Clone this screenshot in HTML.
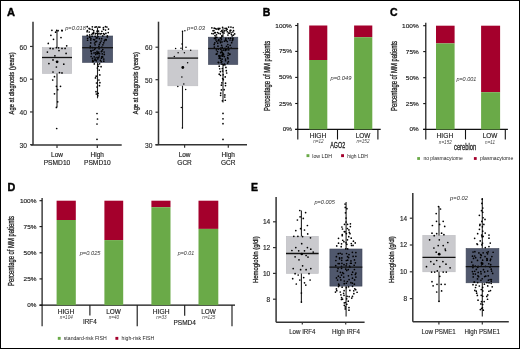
<!DOCTYPE html>
<html><head><meta charset="utf-8"><style>
html,body{margin:0;padding:0;background:#fff;}
svg{display:block;will-change:transform;}
text{font-family:"Liberation Sans", sans-serif;}
</style></head><body>
<svg width="520" height="349" viewBox="0 0 520 349" font-family='"Liberation Sans", sans-serif'><rect x="0" y="0" width="520" height="349" fill="#fff"/><text x="7.10" y="15.90" font-size="11" fill="#000" text-anchor="start" stroke="#000" stroke-width="0.4" font-weight="bold" textLength="8.00" lengthAdjust="spacingAndGlyphs">A</text><line x1="33.00" y1="21.70" x2="33.00" y2="145.00" stroke="#333" stroke-width="1.5"/><line x1="31.00" y1="145.00" x2="121.70" y2="145.00" stroke="#333" stroke-width="1.5"/><line x1="30.00" y1="144.70" x2="33.00" y2="144.70" stroke="#333" stroke-width="1.2"/><text x="27.00" y="147.80" font-size="6.8" fill="#222" text-anchor="end" stroke="#222" stroke-width="0.12" textLength="7.40" lengthAdjust="spacingAndGlyphs">30</text><line x1="30.00" y1="111.95" x2="33.00" y2="111.95" stroke="#333" stroke-width="1.2"/><text x="27.00" y="115.05" font-size="6.8" fill="#222" text-anchor="end" stroke="#222" stroke-width="0.12" textLength="7.40" lengthAdjust="spacingAndGlyphs">40</text><line x1="30.00" y1="79.20" x2="33.00" y2="79.20" stroke="#333" stroke-width="1.2"/><text x="27.00" y="82.30" font-size="6.8" fill="#222" text-anchor="end" stroke="#222" stroke-width="0.12" textLength="7.40" lengthAdjust="spacingAndGlyphs">50</text><line x1="30.00" y1="46.45" x2="33.00" y2="46.45" stroke="#333" stroke-width="1.2"/><text x="27.00" y="49.55" font-size="6.8" fill="#222" text-anchor="end" stroke="#222" stroke-width="0.12" textLength="7.40" lengthAdjust="spacingAndGlyphs">60</text><text x="13.60" y="83.40" font-size="7.8" fill="#222" text-anchor="middle" stroke="#222" stroke-width="0.3" textLength="62.00" lengthAdjust="spacingAndGlyphs" transform="rotate(-90 13.60 83.40)">Age at diagnosis (years)</text><line x1="57.00" y1="145.00" x2="57.00" y2="148.00" stroke="#333" stroke-width="1.2"/><line x1="97.30" y1="145.00" x2="97.30" y2="148.00" stroke="#333" stroke-width="1.2"/><text x="57.00" y="156.90" font-size="6.5" fill="#222" text-anchor="middle" stroke="#222" stroke-width="0.15">Low</text><text x="57.00" y="164.70" font-size="6.5" fill="#222" text-anchor="middle" stroke="#222" stroke-width="0.15" textLength="26.60" lengthAdjust="spacingAndGlyphs">PSMD10</text><text x="97.30" y="156.90" font-size="6.5" fill="#222" text-anchor="middle" stroke="#222" stroke-width="0.15">High</text><text x="97.30" y="164.70" font-size="6.5" fill="#222" text-anchor="middle" stroke="#222" stroke-width="0.15" textLength="26.60" lengthAdjust="spacingAndGlyphs">PSMD10</text><text x="65.20" y="29.80" font-size="5.2" fill="#333" text-anchor="start" font-style="italic" textLength="20.60" lengthAdjust="spacingAndGlyphs">p=0.018</text><rect x="42.30" y="47.60" width="29.40" height="25.90" fill="#cacace" stroke="#bcbcc1" stroke-width="0.6"/><line x1="57.00" y1="30.40" x2="57.00" y2="47.60" stroke="#222" stroke-width="1.1"/><line x1="57.00" y1="73.50" x2="57.00" y2="107.30" stroke="#222" stroke-width="1.1"/><circle cx="51.90" cy="30.30" r="0.85" fill="#000"/><circle cx="55.60" cy="32.20" r="0.85" fill="#000"/><circle cx="58.10" cy="30.70" r="0.85" fill="#000"/><circle cx="62.10" cy="30.70" r="0.85" fill="#000"/><circle cx="50.90" cy="35.30" r="0.85" fill="#000"/><circle cx="61.00" cy="37.60" r="0.85" fill="#000"/><circle cx="53.50" cy="39.30" r="0.85" fill="#000"/><circle cx="48.30" cy="43.40" r="0.85" fill="#000"/><circle cx="66.70" cy="45.80" r="0.85" fill="#000"/><circle cx="56.40" cy="47.70" r="0.85" fill="#000"/><circle cx="50.20" cy="48.40" r="0.85" fill="#000"/><circle cx="53.00" cy="48.70" r="0.85" fill="#000"/><circle cx="58.60" cy="47.80" r="0.85" fill="#000"/><circle cx="62.00" cy="48.40" r="0.85" fill="#000"/><circle cx="65.10" cy="48.40" r="0.85" fill="#000"/><circle cx="47.40" cy="52.10" r="0.85" fill="#000"/><circle cx="59.00" cy="50.60" r="0.85" fill="#000"/><circle cx="66.10" cy="53.40" r="0.85" fill="#000"/><circle cx="54.90" cy="55.80" r="0.85" fill="#000"/><circle cx="53.00" cy="59.90" r="0.85" fill="#000"/><circle cx="48.90" cy="63.60" r="0.85" fill="#000"/><circle cx="63.80" cy="64.20" r="0.85" fill="#000"/><circle cx="56.40" cy="67.00" r="0.85" fill="#000"/><circle cx="53.00" cy="72.00" r="0.85" fill="#000"/><circle cx="59.50" cy="72.60" r="0.85" fill="#000"/><circle cx="62.00" cy="72.90" r="0.85" fill="#000"/><circle cx="54.50" cy="76.70" r="0.85" fill="#000"/><circle cx="52.70" cy="80.00" r="0.85" fill="#000"/><circle cx="56.40" cy="86.30" r="0.85" fill="#000"/><circle cx="60.50" cy="86.30" r="0.85" fill="#000"/><circle cx="57.70" cy="89.70" r="0.85" fill="#000"/><circle cx="54.50" cy="93.80" r="0.85" fill="#000"/><circle cx="57.70" cy="101.80" r="0.85" fill="#000"/><circle cx="56.40" cy="107.40" r="0.85" fill="#000"/><circle cx="56.70" cy="128.50" r="0.85" fill="#000"/><circle cx="56.70" cy="30.40" r="0.85" fill="#000"/><line x1="42.00" y1="57.50" x2="72.00" y2="57.50" stroke="#111" stroke-width="1.3"/><circle cx="57.10" cy="61.80" r="1.4" fill="#000"/><rect x="82.50" y="36.00" width="30.20" height="26.40" fill="#50586d" stroke="#3e4557" stroke-width="0.6"/><line x1="97.50" y1="27.60" x2="97.50" y2="36.00" stroke="#222" stroke-width="1.1"/><line x1="97.50" y1="62.40" x2="97.50" y2="98.30" stroke="#222" stroke-width="1.1"/><circle cx="105.51" cy="30.11" r="0.85" fill="#000"/><circle cx="103.36" cy="27.69" r="0.85" fill="#000"/><circle cx="93.71" cy="32.34" r="0.85" fill="#000"/><circle cx="101.89" cy="31.24" r="0.85" fill="#000"/><circle cx="92.46" cy="33.25" r="0.85" fill="#000"/><circle cx="89.21" cy="32.00" r="0.85" fill="#000"/><circle cx="99.85" cy="27.19" r="0.85" fill="#000"/><circle cx="87.38" cy="30.69" r="0.85" fill="#000"/><circle cx="96.15" cy="33.26" r="0.85" fill="#000"/><circle cx="101.56" cy="33.53" r="0.85" fill="#000"/><circle cx="93.56" cy="33.63" r="0.85" fill="#000"/><circle cx="98.53" cy="31.04" r="0.85" fill="#000"/><circle cx="102.77" cy="35.95" r="0.85" fill="#000"/><circle cx="105.48" cy="26.67" r="0.85" fill="#000"/><circle cx="93.69" cy="30.72" r="0.85" fill="#000"/><circle cx="87.23" cy="26.71" r="0.85" fill="#000"/><circle cx="103.57" cy="33.54" r="0.85" fill="#000"/><circle cx="100.24" cy="33.91" r="0.85" fill="#000"/><circle cx="95.43" cy="33.86" r="0.85" fill="#000"/><circle cx="89.09" cy="28.39" r="0.85" fill="#000"/><circle cx="89.68" cy="34.95" r="0.85" fill="#000"/><circle cx="103.51" cy="29.33" r="0.85" fill="#000"/><circle cx="92.32" cy="26.81" r="0.85" fill="#000"/><circle cx="96.23" cy="26.78" r="0.85" fill="#000"/><circle cx="106.89" cy="27.01" r="0.85" fill="#000"/><circle cx="97.07" cy="31.18" r="0.85" fill="#000"/><circle cx="95.05" cy="27.22" r="0.85" fill="#000"/><circle cx="98.37" cy="27.00" r="0.85" fill="#000"/><circle cx="98.91" cy="33.28" r="0.85" fill="#000"/><circle cx="108.48" cy="29.11" r="0.85" fill="#000"/><circle cx="87.07" cy="31.76" r="0.85" fill="#000"/><circle cx="87.22" cy="35.46" r="0.85" fill="#000"/><circle cx="104.26" cy="34.33" r="0.85" fill="#000"/><circle cx="89.98" cy="29.09" r="0.85" fill="#000"/><circle cx="92.22" cy="29.45" r="0.85" fill="#000"/><circle cx="91.90" cy="34.51" r="0.85" fill="#000"/><circle cx="107.36" cy="35.90" r="0.85" fill="#000"/><circle cx="108.21" cy="32.61" r="0.85" fill="#000"/><circle cx="97.84" cy="34.06" r="0.85" fill="#000"/><circle cx="105.90" cy="33.41" r="0.85" fill="#000"/><circle cx="105.23" cy="39.54" r="0.85" fill="#000"/><circle cx="90.79" cy="39.90" r="0.85" fill="#000"/><circle cx="104.42" cy="40.86" r="0.85" fill="#000"/><circle cx="94.64" cy="39.80" r="0.85" fill="#000"/><circle cx="93.61" cy="39.51" r="0.85" fill="#000"/><circle cx="106.19" cy="39.79" r="0.85" fill="#000"/><circle cx="87.60" cy="38.29" r="0.85" fill="#000"/><circle cx="90.90" cy="38.35" r="0.85" fill="#000"/><circle cx="96.59" cy="41.45" r="0.85" fill="#000"/><circle cx="95.17" cy="36.25" r="0.85" fill="#000"/><circle cx="98.02" cy="36.61" r="0.85" fill="#000"/><circle cx="107.38" cy="36.96" r="0.85" fill="#000"/><circle cx="89.55" cy="37.08" r="0.85" fill="#000"/><circle cx="99.41" cy="38.70" r="0.85" fill="#000"/><circle cx="87.57" cy="40.24" r="0.85" fill="#000"/><circle cx="89.89" cy="37.10" r="0.85" fill="#000"/><circle cx="97.08" cy="37.96" r="0.85" fill="#000"/><circle cx="92.11" cy="36.25" r="0.85" fill="#000"/><circle cx="101.65" cy="38.66" r="0.85" fill="#000"/><circle cx="96.25" cy="37.91" r="0.85" fill="#000"/><circle cx="101.12" cy="41.02" r="0.85" fill="#000"/><circle cx="106.04" cy="39.60" r="0.85" fill="#000"/><circle cx="100.20" cy="42.68" r="0.85" fill="#000"/><circle cx="95.08" cy="44.82" r="0.85" fill="#000"/><circle cx="95.52" cy="41.86" r="0.85" fill="#000"/><circle cx="103.71" cy="42.79" r="0.85" fill="#000"/><circle cx="99.35" cy="44.40" r="0.85" fill="#000"/><circle cx="90.73" cy="42.92" r="0.85" fill="#000"/><circle cx="98.88" cy="46.28" r="0.85" fill="#000"/><circle cx="90.33" cy="46.20" r="0.85" fill="#000"/><circle cx="102.89" cy="44.87" r="0.85" fill="#000"/><circle cx="92.47" cy="47.57" r="0.85" fill="#000"/><circle cx="101.93" cy="47.02" r="0.85" fill="#000"/><circle cx="94.56" cy="43.01" r="0.85" fill="#000"/><circle cx="95.34" cy="48.08" r="0.85" fill="#000"/><circle cx="102.24" cy="53.82" r="0.85" fill="#000"/><circle cx="90.16" cy="47.77" r="0.85" fill="#000"/><circle cx="97.05" cy="51.31" r="0.85" fill="#000"/><circle cx="91.18" cy="51.56" r="0.85" fill="#000"/><circle cx="94.58" cy="49.39" r="0.85" fill="#000"/><circle cx="98.80" cy="52.05" r="0.85" fill="#000"/><circle cx="104.29" cy="54.40" r="0.85" fill="#000"/><circle cx="94.06" cy="52.89" r="0.85" fill="#000"/><circle cx="99.57" cy="53.76" r="0.85" fill="#000"/><circle cx="91.52" cy="53.68" r="0.85" fill="#000"/><circle cx="95.70" cy="54.41" r="0.85" fill="#000"/><circle cx="104.12" cy="52.00" r="0.85" fill="#000"/><circle cx="99.10" cy="48.73" r="0.85" fill="#000"/><circle cx="92.97" cy="50.26" r="0.85" fill="#000"/><circle cx="95.67" cy="52.75" r="0.85" fill="#000"/><circle cx="101.99" cy="50.95" r="0.85" fill="#000"/><circle cx="102.79" cy="49.50" r="0.85" fill="#000"/><circle cx="101.34" cy="51.55" r="0.85" fill="#000"/><circle cx="90.92" cy="50.69" r="0.85" fill="#000"/><circle cx="96.32" cy="60.79" r="0.85" fill="#000"/><circle cx="95.14" cy="58.01" r="0.85" fill="#000"/><circle cx="98.73" cy="57.55" r="0.85" fill="#000"/><circle cx="92.73" cy="60.33" r="0.85" fill="#000"/><circle cx="94.17" cy="56.75" r="0.85" fill="#000"/><circle cx="95.78" cy="59.90" r="0.85" fill="#000"/><circle cx="101.44" cy="58.19" r="0.85" fill="#000"/><circle cx="94.72" cy="59.89" r="0.85" fill="#000"/><circle cx="103.78" cy="59.09" r="0.85" fill="#000"/><circle cx="101.78" cy="56.81" r="0.85" fill="#000"/><circle cx="99.21" cy="55.99" r="0.85" fill="#000"/><circle cx="103.80" cy="61.14" r="0.85" fill="#000"/><circle cx="100.42" cy="60.28" r="0.85" fill="#000"/><circle cx="102.79" cy="57.00" r="0.85" fill="#000"/><circle cx="92.66" cy="61.57" r="0.85" fill="#000"/><circle cx="93.23" cy="61.45" r="0.85" fill="#000"/><circle cx="91.14" cy="56.50" r="0.85" fill="#000"/><circle cx="102.21" cy="56.48" r="0.85" fill="#000"/><circle cx="97.04" cy="57.47" r="0.85" fill="#000"/><circle cx="97.82" cy="58.96" r="0.85" fill="#000"/><circle cx="101.23" cy="61.51" r="0.85" fill="#000"/><circle cx="92.49" cy="58.40" r="0.85" fill="#000"/><circle cx="99.61" cy="63.87" r="0.85" fill="#000"/><circle cx="97.87" cy="64.44" r="0.85" fill="#000"/><circle cx="101.08" cy="66.66" r="0.85" fill="#000"/><circle cx="94.33" cy="63.97" r="0.85" fill="#000"/><circle cx="98.42" cy="66.27" r="0.85" fill="#000"/><circle cx="96.51" cy="83.01" r="0.85" fill="#000"/><circle cx="97.42" cy="68.12" r="0.85" fill="#000"/><circle cx="96.00" cy="91.64" r="0.85" fill="#000"/><circle cx="98.91" cy="80.00" r="0.85" fill="#000"/><circle cx="99.23" cy="70.10" r="0.85" fill="#000"/><circle cx="96.35" cy="94.00" r="0.85" fill="#000"/><circle cx="99.89" cy="82.63" r="0.85" fill="#000"/><circle cx="98.17" cy="93.39" r="0.85" fill="#000"/><circle cx="97.82" cy="95.74" r="0.85" fill="#000"/><circle cx="97.04" cy="87.00" r="0.85" fill="#000"/><circle cx="96.19" cy="76.15" r="0.85" fill="#000"/><circle cx="95.48" cy="77.93" r="0.85" fill="#000"/><circle cx="99.81" cy="74.93" r="0.85" fill="#000"/><circle cx="99.45" cy="85.70" r="0.85" fill="#000"/><circle cx="97.00" cy="113.50" r="0.85" fill="#000"/><circle cx="97.50" cy="119.00" r="0.85" fill="#000"/><circle cx="97.00" cy="124.00" r="0.85" fill="#000"/><circle cx="97.00" cy="139.30" r="0.85" fill="#000"/><circle cx="61.90" cy="30.40" r="0.85" fill="#000"/><line x1="82.20" y1="47.70" x2="113.00" y2="47.70" stroke="#111" stroke-width="1.3"/><circle cx="97.60" cy="53.30" r="1.4" fill="#000"/><line x1="158.50" y1="21.70" x2="158.50" y2="144.70" stroke="#333" stroke-width="1.5"/><line x1="155.50" y1="144.70" x2="247.00" y2="144.70" stroke="#333" stroke-width="1.5"/><line x1="155.50" y1="144.70" x2="158.50" y2="144.70" stroke="#333" stroke-width="1.2"/><text x="152.50" y="147.80" font-size="6.8" fill="#222" text-anchor="end" stroke="#222" stroke-width="0.12" textLength="7.40" lengthAdjust="spacingAndGlyphs">30</text><line x1="155.50" y1="112.20" x2="158.50" y2="112.20" stroke="#333" stroke-width="1.2"/><text x="152.50" y="115.30" font-size="6.8" fill="#222" text-anchor="end" stroke="#222" stroke-width="0.12" textLength="7.40" lengthAdjust="spacingAndGlyphs">40</text><line x1="155.50" y1="79.70" x2="158.50" y2="79.70" stroke="#333" stroke-width="1.2"/><text x="152.50" y="82.80" font-size="6.8" fill="#222" text-anchor="end" stroke="#222" stroke-width="0.12" textLength="7.40" lengthAdjust="spacingAndGlyphs">50</text><line x1="155.50" y1="47.20" x2="158.50" y2="47.20" stroke="#333" stroke-width="1.2"/><text x="152.50" y="50.30" font-size="6.8" fill="#222" text-anchor="end" stroke="#222" stroke-width="0.12" textLength="7.40" lengthAdjust="spacingAndGlyphs">60</text><text x="137.60" y="83.20" font-size="7.8" fill="#222" text-anchor="middle" stroke="#222" stroke-width="0.3" textLength="62.00" lengthAdjust="spacingAndGlyphs" transform="rotate(-90 137.60 83.20)">Age at diagnosis (years)</text><line x1="184.60" y1="144.70" x2="184.60" y2="147.70" stroke="#333" stroke-width="1.2"/><line x1="228.30" y1="144.70" x2="228.30" y2="147.70" stroke="#333" stroke-width="1.2"/><text x="184.60" y="156.80" font-size="6.5" fill="#222" text-anchor="middle" stroke="#222" stroke-width="0.15">Low</text><text x="184.60" y="164.90" font-size="6.5" fill="#222" text-anchor="middle" stroke="#222" stroke-width="0.15">GCR</text><text x="228.30" y="156.80" font-size="6.5" fill="#222" text-anchor="middle" stroke="#222" stroke-width="0.15">High</text><text x="228.30" y="164.90" font-size="6.5" fill="#222" text-anchor="middle" stroke="#222" stroke-width="0.15">GCR</text><text x="187.10" y="30.40" font-size="5.2" fill="#333" text-anchor="start" font-style="italic" textLength="17.80" lengthAdjust="spacingAndGlyphs">p=0.03</text><rect x="167.90" y="50.10" width="29.90" height="35.70" fill="#cacace" stroke="#bcbcc1" stroke-width="0.6"/><line x1="182.50" y1="31.00" x2="182.50" y2="50.10" stroke="#222" stroke-width="1.1"/><line x1="182.50" y1="85.80" x2="182.50" y2="128.30" stroke="#222" stroke-width="1.1"/><circle cx="182.50" cy="31.30" r="0.75" fill="#000"/><circle cx="182.00" cy="43.90" r="0.75" fill="#000"/><circle cx="175.60" cy="48.60" r="0.75" fill="#000"/><circle cx="181.00" cy="48.30" r="0.75" fill="#000"/><circle cx="186.00" cy="47.30" r="0.75" fill="#000"/><circle cx="190.70" cy="50.20" r="0.75" fill="#000"/><circle cx="174.30" cy="56.50" r="0.75" fill="#000"/><circle cx="178.10" cy="52.70" r="0.75" fill="#000"/><circle cx="184.40" cy="52.70" r="0.75" fill="#000"/><circle cx="187.60" cy="62.80" r="0.75" fill="#000"/><circle cx="181.90" cy="77.00" r="0.75" fill="#000"/><circle cx="183.80" cy="83.90" r="0.75" fill="#000"/><circle cx="177.80" cy="86.40" r="0.75" fill="#000"/><circle cx="185.70" cy="89.60" r="0.75" fill="#000"/><circle cx="181.30" cy="107.50" r="0.75" fill="#000"/><circle cx="182.40" cy="128.00" r="0.75" fill="#000"/><circle cx="184.90" cy="30.80" r="0.75" fill="#000"/><line x1="167.60" y1="58.10" x2="198.10" y2="58.10" stroke="#111" stroke-width="1.3"/><circle cx="182.80" cy="67.50" r="1.4" fill="#000"/><rect x="208.40" y="37.20" width="29.40" height="27.30" fill="#50586d" stroke="#3e4557" stroke-width="0.6"/><line x1="223.00" y1="27.70" x2="223.00" y2="37.20" stroke="#222" stroke-width="1.1"/><line x1="223.00" y1="64.50" x2="223.00" y2="102.50" stroke="#222" stroke-width="1.1"/><circle cx="212.95" cy="30.75" r="0.85" fill="#000"/><circle cx="227.06" cy="29.38" r="0.85" fill="#000"/><circle cx="230.95" cy="27.04" r="0.85" fill="#000"/><circle cx="233.48" cy="35.07" r="0.85" fill="#000"/><circle cx="221.92" cy="36.18" r="0.85" fill="#000"/><circle cx="222.65" cy="32.22" r="0.85" fill="#000"/><circle cx="214.97" cy="35.58" r="0.85" fill="#000"/><circle cx="220.42" cy="33.87" r="0.85" fill="#000"/><circle cx="232.17" cy="35.93" r="0.85" fill="#000"/><circle cx="228.40" cy="33.00" r="0.85" fill="#000"/><circle cx="227.91" cy="34.99" r="0.85" fill="#000"/><circle cx="217.58" cy="32.56" r="0.85" fill="#000"/><circle cx="231.44" cy="34.50" r="0.85" fill="#000"/><circle cx="232.84" cy="32.01" r="0.85" fill="#000"/><circle cx="224.49" cy="30.92" r="0.85" fill="#000"/><circle cx="231.07" cy="32.79" r="0.85" fill="#000"/><circle cx="226.12" cy="30.32" r="0.85" fill="#000"/><circle cx="233.57" cy="30.70" r="0.85" fill="#000"/><circle cx="218.69" cy="29.49" r="0.85" fill="#000"/><circle cx="230.87" cy="30.36" r="0.85" fill="#000"/><circle cx="230.19" cy="30.30" r="0.85" fill="#000"/><circle cx="219.81" cy="28.47" r="0.85" fill="#000"/><circle cx="215.56" cy="28.65" r="0.85" fill="#000"/><circle cx="221.06" cy="31.52" r="0.85" fill="#000"/><circle cx="213.92" cy="30.65" r="0.85" fill="#000"/><circle cx="216.55" cy="34.78" r="0.85" fill="#000"/><circle cx="222.60" cy="27.34" r="0.85" fill="#000"/><circle cx="228.63" cy="27.07" r="0.85" fill="#000"/><circle cx="216.87" cy="29.07" r="0.85" fill="#000"/><circle cx="215.72" cy="36.99" r="0.85" fill="#000"/><circle cx="224.06" cy="32.98" r="0.85" fill="#000"/><circle cx="211.89" cy="27.80" r="0.85" fill="#000"/><circle cx="218.84" cy="33.37" r="0.85" fill="#000"/><circle cx="225.09" cy="28.40" r="0.85" fill="#000"/><circle cx="213.30" cy="33.75" r="0.85" fill="#000"/><circle cx="215.44" cy="32.71" r="0.85" fill="#000"/><circle cx="234.65" cy="33.90" r="0.85" fill="#000"/><circle cx="230.05" cy="31.09" r="0.85" fill="#000"/><circle cx="214.56" cy="32.78" r="0.85" fill="#000"/><circle cx="226.51" cy="28.32" r="0.85" fill="#000"/><circle cx="233.14" cy="27.60" r="0.85" fill="#000"/><circle cx="218.19" cy="28.44" r="0.85" fill="#000"/><circle cx="221.91" cy="35.87" r="0.85" fill="#000"/><circle cx="221.86" cy="30.52" r="0.85" fill="#000"/><circle cx="227.34" cy="31.75" r="0.85" fill="#000"/><circle cx="214.23" cy="28.20" r="0.85" fill="#000"/><circle cx="211.88" cy="33.48" r="0.85" fill="#000"/><circle cx="229.28" cy="33.18" r="0.85" fill="#000"/><circle cx="218.82" cy="39.63" r="0.85" fill="#000"/><circle cx="221.43" cy="39.58" r="0.85" fill="#000"/><circle cx="215.57" cy="38.12" r="0.85" fill="#000"/><circle cx="228.56" cy="38.36" r="0.85" fill="#000"/><circle cx="230.03" cy="40.00" r="0.85" fill="#000"/><circle cx="220.35" cy="38.07" r="0.85" fill="#000"/><circle cx="225.84" cy="38.38" r="0.85" fill="#000"/><circle cx="218.53" cy="40.07" r="0.85" fill="#000"/><circle cx="216.65" cy="41.48" r="0.85" fill="#000"/><circle cx="221.99" cy="41.93" r="0.85" fill="#000"/><circle cx="221.25" cy="37.88" r="0.85" fill="#000"/><circle cx="214.47" cy="38.39" r="0.85" fill="#000"/><circle cx="224.45" cy="41.13" r="0.85" fill="#000"/><circle cx="232.93" cy="38.20" r="0.85" fill="#000"/><circle cx="218.34" cy="40.62" r="0.85" fill="#000"/><circle cx="232.80" cy="39.63" r="0.85" fill="#000"/><circle cx="220.11" cy="41.03" r="0.85" fill="#000"/><circle cx="215.94" cy="39.96" r="0.85" fill="#000"/><circle cx="227.26" cy="41.53" r="0.85" fill="#000"/><circle cx="232.33" cy="40.60" r="0.85" fill="#000"/><circle cx="225.56" cy="39.75" r="0.85" fill="#000"/><circle cx="230.62" cy="38.14" r="0.85" fill="#000"/><circle cx="226.09" cy="40.40" r="0.85" fill="#000"/><circle cx="216.81" cy="37.38" r="0.85" fill="#000"/><circle cx="226.49" cy="46.23" r="0.85" fill="#000"/><circle cx="231.20" cy="48.21" r="0.85" fill="#000"/><circle cx="221.62" cy="45.35" r="0.85" fill="#000"/><circle cx="230.20" cy="45.36" r="0.85" fill="#000"/><circle cx="220.46" cy="42.64" r="0.85" fill="#000"/><circle cx="225.04" cy="48.39" r="0.85" fill="#000"/><circle cx="214.33" cy="47.10" r="0.85" fill="#000"/><circle cx="228.31" cy="47.22" r="0.85" fill="#000"/><circle cx="217.77" cy="43.17" r="0.85" fill="#000"/><circle cx="227.84" cy="44.51" r="0.85" fill="#000"/><circle cx="222.23" cy="47.37" r="0.85" fill="#000"/><circle cx="214.23" cy="44.45" r="0.85" fill="#000"/><circle cx="220.84" cy="48.11" r="0.85" fill="#000"/><circle cx="214.84" cy="42.83" r="0.85" fill="#000"/><circle cx="217.96" cy="46.15" r="0.85" fill="#000"/><circle cx="231.68" cy="42.71" r="0.85" fill="#000"/><circle cx="221.95" cy="50.84" r="0.85" fill="#000"/><circle cx="229.61" cy="54.38" r="0.85" fill="#000"/><circle cx="220.85" cy="49.40" r="0.85" fill="#000"/><circle cx="220.66" cy="52.71" r="0.85" fill="#000"/><circle cx="225.26" cy="50.44" r="0.85" fill="#000"/><circle cx="223.51" cy="50.08" r="0.85" fill="#000"/><circle cx="218.41" cy="49.04" r="0.85" fill="#000"/><circle cx="229.90" cy="54.11" r="0.85" fill="#000"/><circle cx="217.01" cy="53.87" r="0.85" fill="#000"/><circle cx="221.89" cy="55.80" r="0.85" fill="#000"/><circle cx="222.50" cy="52.49" r="0.85" fill="#000"/><circle cx="216.40" cy="49.83" r="0.85" fill="#000"/><circle cx="228.78" cy="49.87" r="0.85" fill="#000"/><circle cx="225.70" cy="49.16" r="0.85" fill="#000"/><circle cx="219.87" cy="55.65" r="0.85" fill="#000"/><circle cx="216.26" cy="54.13" r="0.85" fill="#000"/><circle cx="217.53" cy="51.66" r="0.85" fill="#000"/><circle cx="226.87" cy="49.79" r="0.85" fill="#000"/><circle cx="228.27" cy="53.06" r="0.85" fill="#000"/><circle cx="228.00" cy="55.24" r="0.85" fill="#000"/><circle cx="218.77" cy="55.91" r="0.85" fill="#000"/><circle cx="221.49" cy="51.99" r="0.85" fill="#000"/><circle cx="218.29" cy="62.32" r="0.85" fill="#000"/><circle cx="225.50" cy="59.03" r="0.85" fill="#000"/><circle cx="221.16" cy="62.48" r="0.85" fill="#000"/><circle cx="224.40" cy="56.57" r="0.85" fill="#000"/><circle cx="219.26" cy="58.26" r="0.85" fill="#000"/><circle cx="227.63" cy="63.08" r="0.85" fill="#000"/><circle cx="222.77" cy="56.15" r="0.85" fill="#000"/><circle cx="222.10" cy="59.16" r="0.85" fill="#000"/><circle cx="220.87" cy="60.51" r="0.85" fill="#000"/><circle cx="222.07" cy="64.13" r="0.85" fill="#000"/><circle cx="219.39" cy="57.90" r="0.85" fill="#000"/><circle cx="227.65" cy="57.50" r="0.85" fill="#000"/><circle cx="219.84" cy="56.39" r="0.85" fill="#000"/><circle cx="224.36" cy="64.08" r="0.85" fill="#000"/><circle cx="225.53" cy="60.70" r="0.85" fill="#000"/><circle cx="228.39" cy="61.65" r="0.85" fill="#000"/><circle cx="227.97" cy="58.72" r="0.85" fill="#000"/><circle cx="220.36" cy="58.38" r="0.85" fill="#000"/><circle cx="221.82" cy="61.58" r="0.85" fill="#000"/><circle cx="218.65" cy="62.57" r="0.85" fill="#000"/><circle cx="223.15" cy="74.76" r="0.85" fill="#000"/><circle cx="219.70" cy="68.75" r="0.85" fill="#000"/><circle cx="222.34" cy="68.57" r="0.85" fill="#000"/><circle cx="220.38" cy="71.72" r="0.85" fill="#000"/><circle cx="224.96" cy="64.85" r="0.85" fill="#000"/><circle cx="226.30" cy="70.72" r="0.85" fill="#000"/><circle cx="223.57" cy="64.97" r="0.85" fill="#000"/><circle cx="219.23" cy="66.22" r="0.85" fill="#000"/><circle cx="219.24" cy="74.13" r="0.85" fill="#000"/><circle cx="225.92" cy="67.45" r="0.85" fill="#000"/><circle cx="226.67" cy="73.00" r="0.85" fill="#000"/><circle cx="222.53" cy="71.01" r="0.85" fill="#000"/><circle cx="220.71" cy="93.07" r="0.85" fill="#000"/><circle cx="221.84" cy="82.87" r="0.85" fill="#000"/><circle cx="224.16" cy="89.68" r="0.85" fill="#000"/><circle cx="225.49" cy="85.59" r="0.85" fill="#000"/><circle cx="222.41" cy="100.81" r="0.85" fill="#000"/><circle cx="225.55" cy="83.21" r="0.85" fill="#000"/><circle cx="224.78" cy="97.00" r="0.85" fill="#000"/><circle cx="225.22" cy="76.93" r="0.85" fill="#000"/><circle cx="223.29" cy="79.71" r="0.85" fill="#000"/><circle cx="220.61" cy="95.36" r="0.85" fill="#000"/><circle cx="222.67" cy="78.51" r="0.85" fill="#000"/><circle cx="225.28" cy="100.25" r="0.85" fill="#000"/><circle cx="221.41" cy="85.13" r="0.85" fill="#000"/><circle cx="224.86" cy="94.88" r="0.85" fill="#000"/><circle cx="221.40" cy="89.95" r="0.85" fill="#000"/><circle cx="220.46" cy="75.34" r="0.85" fill="#000"/><circle cx="223.00" cy="113.40" r="0.85" fill="#000"/><circle cx="223.00" cy="118.80" r="0.85" fill="#000"/><circle cx="223.00" cy="123.70" r="0.85" fill="#000"/><circle cx="223.00" cy="139.40" r="0.85" fill="#000"/><line x1="208.10" y1="48.50" x2="238.10" y2="48.50" stroke="#111" stroke-width="1.3"/><circle cx="223.00" cy="54.40" r="1.4" fill="#000"/><text x="262.70" y="15.80" font-size="10.6" fill="#000" text-anchor="start" stroke="#000" stroke-width="0.4" font-weight="bold" textLength="7.60" lengthAdjust="spacingAndGlyphs">B</text><line x1="297.80" y1="22.90" x2="297.80" y2="129.40" stroke="#111" stroke-width="1.2"/><line x1="295.20" y1="129.40" x2="380.70" y2="129.40" stroke="#111" stroke-width="1.3"/><line x1="295.20" y1="25.50" x2="297.80" y2="25.50" stroke="#111" stroke-width="1.1"/><text x="291.90" y="27.50" font-size="5.8" fill="#222" text-anchor="end" stroke="#222" stroke-width="0.15" textLength="16.60" lengthAdjust="spacingAndGlyphs">100%</text><line x1="295.20" y1="51.40" x2="297.80" y2="51.40" stroke="#111" stroke-width="1.1"/><text x="291.90" y="53.40" font-size="5.8" fill="#222" text-anchor="end" stroke="#222" stroke-width="0.15" textLength="12.90" lengthAdjust="spacingAndGlyphs">75%</text><line x1="295.20" y1="77.40" x2="297.80" y2="77.40" stroke="#111" stroke-width="1.1"/><text x="291.90" y="79.40" font-size="5.8" fill="#222" text-anchor="end" stroke="#222" stroke-width="0.15" textLength="12.90" lengthAdjust="spacingAndGlyphs">50%</text><line x1="295.20" y1="103.50" x2="297.80" y2="103.50" stroke="#111" stroke-width="1.1"/><text x="291.90" y="105.50" font-size="5.8" fill="#222" text-anchor="end" stroke="#222" stroke-width="0.15" textLength="12.90" lengthAdjust="spacingAndGlyphs">25%</text><line x1="295.20" y1="129.40" x2="297.80" y2="129.40" stroke="#111" stroke-width="1.1"/><text x="291.90" y="131.40" font-size="5.8" fill="#222" text-anchor="end" stroke="#222" stroke-width="0.15" textLength="9.20" lengthAdjust="spacingAndGlyphs">0%</text><line x1="297.80" y1="129.40" x2="297.80" y2="139.50" stroke="#111" stroke-width="1.1"/><line x1="337.50" y1="129.40" x2="337.50" y2="139.50" stroke="#111" stroke-width="1.1"/><line x1="377.90" y1="129.40" x2="377.90" y2="139.50" stroke="#111" stroke-width="1.1"/><text x="269.70" y="75.90" font-size="8.2" fill="#222" text-anchor="middle" stroke="#222" stroke-width="0.3" textLength="70.00" lengthAdjust="spacingAndGlyphs" transform="rotate(-90 269.70 75.90)">Percentage of MM patients</text><rect x="309.20" y="25.50" width="18.10" height="34.50" fill="#a4002c"/><rect x="309.20" y="60.00" width="18.10" height="69.40" fill="#6aaa48"/><rect x="354.10" y="25.50" width="18.20" height="11.70" fill="#a4002c"/><rect x="354.10" y="37.20" width="18.20" height="92.20" fill="#6aaa48"/><text x="330.50" y="80.30" font-size="5.2" fill="#333" text-anchor="start" font-style="italic" textLength="21.00" lengthAdjust="spacingAndGlyphs">p=0.049</text><text x="318.00" y="137.50" font-size="6.4" fill="#222" text-anchor="middle" stroke="#222" stroke-width="0.15" textLength="16.70" lengthAdjust="spacingAndGlyphs">HIGH</text><text x="318.50" y="143.20" font-size="4.6" fill="#444" text-anchor="middle" font-style="italic">n=12</text><text x="363.00" y="137.50" font-size="6.4" fill="#222" text-anchor="middle" stroke="#222" stroke-width="0.15" textLength="14.60" lengthAdjust="spacingAndGlyphs">LOW</text><text x="363.00" y="143.20" font-size="4.6" fill="#444" text-anchor="middle" font-style="italic">n=152</text><text x="337.70" y="147.90" font-size="8.6" fill="#222" text-anchor="middle" stroke="#222" stroke-width="0.3" textLength="14.80" lengthAdjust="spacingAndGlyphs">AGO2</text><rect x="306.50" y="154.20" width="2.90" height="2.90" fill="#6aaa48"/><text x="312.30" y="157.80" font-size="5.5" fill="#222" text-anchor="start" textLength="19.70" lengthAdjust="spacingAndGlyphs">low LDH</text><rect x="341.10" y="154.20" width="2.90" height="2.90" fill="#a4002c"/><text x="347.30" y="157.80" font-size="5.5" fill="#222" text-anchor="start" textLength="20.50" lengthAdjust="spacingAndGlyphs">high LDH</text><text x="390.10" y="15.80" font-size="10.6" fill="#000" text-anchor="start" stroke="#000" stroke-width="0.4" font-weight="bold" textLength="7.60" lengthAdjust="spacingAndGlyphs">C</text><line x1="425.80" y1="22.70" x2="425.80" y2="129.40" stroke="#111" stroke-width="1.2"/><line x1="423.20" y1="129.40" x2="507.90" y2="129.40" stroke="#111" stroke-width="1.3"/><line x1="423.20" y1="25.70" x2="425.80" y2="25.70" stroke="#111" stroke-width="1.1"/><text x="418.70" y="27.70" font-size="5.8" fill="#222" text-anchor="end" stroke="#222" stroke-width="0.15" textLength="16.60" lengthAdjust="spacingAndGlyphs">100%</text><line x1="423.20" y1="51.60" x2="425.80" y2="51.60" stroke="#111" stroke-width="1.1"/><text x="418.70" y="53.60" font-size="5.8" fill="#222" text-anchor="end" stroke="#222" stroke-width="0.15" textLength="12.90" lengthAdjust="spacingAndGlyphs">75%</text><line x1="423.20" y1="77.70" x2="425.80" y2="77.70" stroke="#111" stroke-width="1.1"/><text x="418.70" y="79.70" font-size="5.8" fill="#222" text-anchor="end" stroke="#222" stroke-width="0.15" textLength="12.90" lengthAdjust="spacingAndGlyphs">50%</text><line x1="423.20" y1="103.60" x2="425.80" y2="103.60" stroke="#111" stroke-width="1.1"/><text x="418.70" y="105.60" font-size="5.8" fill="#222" text-anchor="end" stroke="#222" stroke-width="0.15" textLength="12.90" lengthAdjust="spacingAndGlyphs">25%</text><line x1="423.20" y1="129.40" x2="425.80" y2="129.40" stroke="#111" stroke-width="1.1"/><text x="418.70" y="131.40" font-size="5.8" fill="#222" text-anchor="end" stroke="#222" stroke-width="0.15" textLength="9.20" lengthAdjust="spacingAndGlyphs">0%</text><line x1="425.80" y1="129.40" x2="425.80" y2="139.40" stroke="#111" stroke-width="1.1"/><line x1="465.50" y1="129.40" x2="465.50" y2="139.40" stroke="#111" stroke-width="1.1"/><line x1="505.30" y1="129.40" x2="505.30" y2="139.40" stroke="#111" stroke-width="1.1"/><text x="397.20" y="76.00" font-size="8.2" fill="#222" text-anchor="middle" stroke="#222" stroke-width="0.3" textLength="70.00" lengthAdjust="spacingAndGlyphs" transform="rotate(-90 397.20 76.00)">Percentage of MM patients</text><rect x="436.00" y="25.70" width="18.60" height="17.70" fill="#a4002c"/><rect x="436.00" y="43.40" width="18.60" height="86.10" fill="#6aaa48"/><rect x="481.10" y="25.70" width="19.00" height="66.50" fill="#a4002c"/><rect x="481.10" y="92.20" width="19.00" height="37.30" fill="#6aaa48"/><text x="456.40" y="81.00" font-size="5.2" fill="#333" text-anchor="start" font-style="italic" textLength="19.90" lengthAdjust="spacingAndGlyphs">p=0.001</text><text x="444.90" y="137.80" font-size="6.4" fill="#222" text-anchor="middle" stroke="#222" stroke-width="0.15" textLength="16.70" lengthAdjust="spacingAndGlyphs">HIGH</text><text x="445.30" y="143.50" font-size="4.6" fill="#444" text-anchor="middle" font-style="italic">n=152</text><text x="490.10" y="137.80" font-size="6.4" fill="#222" text-anchor="middle" stroke="#222" stroke-width="0.15" textLength="14.60" lengthAdjust="spacingAndGlyphs">LOW</text><text x="490.10" y="143.50" font-size="4.6" fill="#444" text-anchor="middle" font-style="italic">n=11</text><text x="465.10" y="150.20" font-size="8.8" fill="#222" text-anchor="middle" stroke="#222" stroke-width="0.3" textLength="22.20" lengthAdjust="spacingAndGlyphs">cereblon</text><rect x="417.20" y="157.10" width="2.80" height="2.80" fill="#6aaa48"/><text x="423.40" y="160.00" font-size="5.5" fill="#222" text-anchor="start" textLength="39.30" lengthAdjust="spacingAndGlyphs">no plasmacytome</text><rect x="473.90" y="157.10" width="2.80" height="2.80" fill="#a4002c"/><text x="480.00" y="160.00" font-size="5.5" fill="#222" text-anchor="start" textLength="33.30" lengthAdjust="spacingAndGlyphs">plasmacytome</text><text x="7.50" y="190.60" font-size="10.6" fill="#000" text-anchor="start" stroke="#000" stroke-width="0.4" font-weight="bold" textLength="7.80" lengthAdjust="spacingAndGlyphs">D</text><line x1="42.10" y1="197.90" x2="42.10" y2="305.20" stroke="#111" stroke-width="1.2"/><line x1="39.50" y1="305.20" x2="235.00" y2="305.20" stroke="#111" stroke-width="1.3"/><line x1="39.50" y1="200.70" x2="42.10" y2="200.70" stroke="#111" stroke-width="1.1"/><text x="36.50" y="202.70" font-size="5.8" fill="#222" text-anchor="end" stroke="#222" stroke-width="0.15" textLength="16.60" lengthAdjust="spacingAndGlyphs">100%</text><line x1="39.50" y1="226.60" x2="42.10" y2="226.60" stroke="#111" stroke-width="1.1"/><text x="36.50" y="228.60" font-size="5.8" fill="#222" text-anchor="end" stroke="#222" stroke-width="0.15" textLength="12.90" lengthAdjust="spacingAndGlyphs">75%</text><line x1="39.50" y1="252.80" x2="42.10" y2="252.80" stroke="#111" stroke-width="1.1"/><text x="36.50" y="254.80" font-size="5.8" fill="#222" text-anchor="end" stroke="#222" stroke-width="0.15" textLength="12.90" lengthAdjust="spacingAndGlyphs">50%</text><line x1="39.50" y1="278.90" x2="42.10" y2="278.90" stroke="#111" stroke-width="1.1"/><text x="36.50" y="280.90" font-size="5.8" fill="#222" text-anchor="end" stroke="#222" stroke-width="0.15" textLength="12.90" lengthAdjust="spacingAndGlyphs">25%</text><line x1="39.50" y1="305.20" x2="42.10" y2="305.20" stroke="#111" stroke-width="1.1"/><text x="36.50" y="307.20" font-size="5.8" fill="#222" text-anchor="end" stroke="#222" stroke-width="0.15" textLength="9.20" lengthAdjust="spacingAndGlyphs">0%</text><line x1="42.10" y1="305.20" x2="42.10" y2="326.30" stroke="#111" stroke-width="1.1"/><line x1="89.90" y1="305.20" x2="89.90" y2="315.50" stroke="#111" stroke-width="1.1"/><line x1="137.20" y1="305.20" x2="137.20" y2="326.30" stroke="#111" stroke-width="1.1"/><line x1="184.70" y1="305.20" x2="184.70" y2="315.80" stroke="#111" stroke-width="1.1"/><line x1="232.00" y1="305.20" x2="232.00" y2="326.20" stroke="#111" stroke-width="1.1"/><text x="14.00" y="251.00" font-size="8.2" fill="#222" text-anchor="middle" stroke="#222" stroke-width="0.3" textLength="70.00" lengthAdjust="spacingAndGlyphs" transform="rotate(-90 14.00 251.00)">Percentage of MM patients</text><rect x="56.60" y="200.70" width="19.20" height="19.30" fill="#a4002c"/><rect x="56.60" y="220.00" width="19.20" height="85.20" fill="#6aaa48"/><rect x="104.40" y="200.70" width="18.80" height="39.40" fill="#a4002c"/><rect x="104.40" y="240.10" width="18.80" height="65.10" fill="#6aaa48"/><rect x="151.40" y="200.70" width="19.10" height="6.50" fill="#a4002c"/><rect x="151.40" y="207.20" width="19.10" height="98.00" fill="#6aaa48"/><rect x="198.50" y="200.70" width="19.80" height="28.20" fill="#a4002c"/><rect x="198.50" y="228.90" width="19.80" height="76.30" fill="#6aaa48"/><text x="79.70" y="255.00" font-size="5.2" fill="#333" text-anchor="start" font-style="italic" textLength="20.80" lengthAdjust="spacingAndGlyphs">p=0.025</text><text x="177.80" y="255.30" font-size="5.2" fill="#333" text-anchor="start" font-style="italic" textLength="16.40" lengthAdjust="spacingAndGlyphs">p=0.01</text><text x="66.00" y="313.90" font-size="6.4" fill="#222" text-anchor="middle" stroke="#222" stroke-width="0.15" textLength="16.70" lengthAdjust="spacingAndGlyphs">HIGH</text><text x="66.30" y="318.60" font-size="4.6" fill="#444" text-anchor="middle" font-style="italic">n=104</text><text x="113.60" y="313.90" font-size="6.4" fill="#222" text-anchor="middle" stroke="#222" stroke-width="0.15" textLength="14.60" lengthAdjust="spacingAndGlyphs">LOW</text><text x="113.90" y="318.60" font-size="4.6" fill="#444" text-anchor="middle" font-style="italic">n=40</text><text x="161.20" y="313.90" font-size="6.4" fill="#222" text-anchor="middle" stroke="#222" stroke-width="0.15" textLength="16.70" lengthAdjust="spacingAndGlyphs">HIGH</text><text x="161.50" y="318.60" font-size="4.6" fill="#444" text-anchor="middle" font-style="italic">n=33</text><text x="208.50" y="313.90" font-size="6.4" fill="#222" text-anchor="middle" stroke="#222" stroke-width="0.15" textLength="14.60" lengthAdjust="spacingAndGlyphs">LOW</text><text x="208.80" y="318.60" font-size="4.6" fill="#444" text-anchor="middle" font-style="italic">n=125</text><text x="89.90" y="324.20" font-size="7.0" fill="#222" text-anchor="middle" stroke="#222" stroke-width="0.15" textLength="13.80" lengthAdjust="spacingAndGlyphs">IRF4</text><text x="184.70" y="324.50" font-size="7.0" fill="#222" text-anchor="middle" stroke="#222" stroke-width="0.15" textLength="22.40" lengthAdjust="spacingAndGlyphs">PSMD4</text><rect x="57.80" y="336.90" width="2.90" height="2.90" fill="#6aaa48"/><text x="63.80" y="340.30" font-size="5.5" fill="#222" text-anchor="start" textLength="42.80" lengthAdjust="spacingAndGlyphs">standard-risk FISH</text><rect x="115.40" y="336.90" width="2.90" height="2.90" fill="#a4002c"/><text x="121.60" y="340.30" font-size="5.5" fill="#222" text-anchor="start" textLength="32.60" lengthAdjust="spacingAndGlyphs">high-risk FISH</text><text x="251.00" y="190.80" font-size="10.6" fill="#000" text-anchor="start" stroke="#000" stroke-width="0.4" font-weight="bold" textLength="7.00" lengthAdjust="spacingAndGlyphs">E</text><line x1="276.10" y1="197.00" x2="276.10" y2="322.20" stroke="#333" stroke-width="1.5"/><line x1="276.10" y1="322.20" x2="364.60" y2="322.20" stroke="#333" stroke-width="1.5"/><line x1="273.00" y1="299.20" x2="276.10" y2="299.20" stroke="#333" stroke-width="1.2"/><text x="270.20" y="301.50" font-size="6.4" fill="#222" text-anchor="end" stroke="#222" stroke-width="0.15" textLength="3.60" lengthAdjust="spacingAndGlyphs">8</text><line x1="273.00" y1="273.40" x2="276.10" y2="273.40" stroke="#333" stroke-width="1.2"/><text x="270.20" y="275.70" font-size="6.4" fill="#222" text-anchor="end" stroke="#222" stroke-width="0.15" textLength="7.30" lengthAdjust="spacingAndGlyphs">10</text><line x1="273.00" y1="247.60" x2="276.10" y2="247.60" stroke="#333" stroke-width="1.2"/><text x="270.20" y="249.90" font-size="6.4" fill="#222" text-anchor="end" stroke="#222" stroke-width="0.15" textLength="7.30" lengthAdjust="spacingAndGlyphs">12</text><line x1="273.00" y1="221.80" x2="276.10" y2="221.80" stroke="#333" stroke-width="1.2"/><text x="270.20" y="224.10" font-size="6.4" fill="#222" text-anchor="end" stroke="#222" stroke-width="0.15" textLength="7.30" lengthAdjust="spacingAndGlyphs">14</text><text x="257.60" y="259.70" font-size="7.8" fill="#222" text-anchor="middle" stroke="#222" stroke-width="0.3" textLength="46.70" lengthAdjust="spacingAndGlyphs" transform="rotate(-90 257.60 259.70)">Hemoglobin (g/dl)</text><line x1="302.30" y1="322.20" x2="302.30" y2="324.60" stroke="#333" stroke-width="1.2"/><line x1="345.70" y1="322.20" x2="345.70" y2="324.60" stroke="#333" stroke-width="1.2"/><text x="302.35" y="333.70" font-size="6.8" fill="#222" text-anchor="middle" stroke="#222" stroke-width="0.12" textLength="26.30" lengthAdjust="spacingAndGlyphs">Low IRF4</text><text x="345.95" y="333.70" font-size="6.8" fill="#222" text-anchor="middle" stroke="#222" stroke-width="0.12" textLength="28.10" lengthAdjust="spacingAndGlyphs">High IRF4</text><text x="314.40" y="203.70" font-size="5.2" fill="#333" text-anchor="start" font-style="italic" textLength="20.40" lengthAdjust="spacingAndGlyphs">p=0.005</text><rect x="286.30" y="236.30" width="32.00" height="37.10" fill="#cacace" stroke="#bcbcc1" stroke-width="0.6"/><line x1="301.40" y1="210.50" x2="301.40" y2="236.30" stroke="#222" stroke-width="1.1"/><line x1="301.40" y1="273.40" x2="301.40" y2="302.30" stroke="#222" stroke-width="1.1"/><circle cx="299.80" cy="210.50" r="0.85" fill="#000"/><circle cx="305.60" cy="212.60" r="0.85" fill="#000"/><circle cx="300.10" cy="216.80" r="0.85" fill="#000"/><circle cx="303.30" cy="218.40" r="0.85" fill="#000"/><circle cx="297.40" cy="220.00" r="0.85" fill="#000"/><circle cx="307.40" cy="225.50" r="0.85" fill="#000"/><circle cx="300.60" cy="228.70" r="0.85" fill="#000"/><circle cx="304.50" cy="230.00" r="0.85" fill="#000"/><circle cx="295.80" cy="230.60" r="0.85" fill="#000"/><circle cx="307.70" cy="233.90" r="0.85" fill="#000"/><circle cx="293.80" cy="236.30" r="0.85" fill="#000"/><circle cx="297.90" cy="236.30" r="0.85" fill="#000"/><circle cx="302.60" cy="236.60" r="0.85" fill="#000"/><circle cx="310.50" cy="237.80" r="0.85" fill="#000"/><circle cx="301.70" cy="243.70" r="0.85" fill="#000"/><circle cx="295.80" cy="247.60" r="0.85" fill="#000"/><circle cx="307.40" cy="247.60" r="0.85" fill="#000"/><circle cx="291.90" cy="250.50" r="0.85" fill="#000"/><circle cx="298.70" cy="250.80" r="0.85" fill="#000"/><circle cx="304.50" cy="250.80" r="0.85" fill="#000"/><circle cx="310.80" cy="249.20" r="0.85" fill="#000"/><circle cx="313.20" cy="252.10" r="0.85" fill="#000"/><circle cx="295.10" cy="256.80" r="0.85" fill="#000"/><circle cx="299.00" cy="259.80" r="0.85" fill="#000"/><circle cx="306.10" cy="255.50" r="0.85" fill="#000"/><circle cx="308.00" cy="257.10" r="0.85" fill="#000"/><circle cx="302.60" cy="265.80" r="0.85" fill="#000"/><circle cx="293.20" cy="268.60" r="0.85" fill="#000"/><circle cx="300.60" cy="269.70" r="0.85" fill="#000"/><circle cx="306.10" cy="269.70" r="0.85" fill="#000"/><circle cx="310.80" cy="268.60" r="0.85" fill="#000"/><circle cx="295.10" cy="273.70" r="0.85" fill="#000"/><circle cx="298.20" cy="275.00" r="0.85" fill="#000"/><circle cx="309.00" cy="273.70" r="0.85" fill="#000"/><circle cx="292.70" cy="278.70" r="0.85" fill="#000"/><circle cx="299.80" cy="280.00" r="0.85" fill="#000"/><circle cx="303.70" cy="277.60" r="0.85" fill="#000"/><circle cx="310.10" cy="280.00" r="0.85" fill="#000"/><circle cx="304.50" cy="282.80" r="0.85" fill="#000"/><circle cx="296.30" cy="284.00" r="0.85" fill="#000"/><circle cx="305.80" cy="285.10" r="0.85" fill="#000"/><circle cx="301.40" cy="293.00" r="0.85" fill="#000"/><circle cx="301.40" cy="302.10" r="0.85" fill="#000"/><line x1="286.00" y1="253.50" x2="318.60" y2="253.50" stroke="#111" stroke-width="1.3"/><circle cx="301.80" cy="254.00" r="1.3" fill="#000"/><rect x="329.90" y="249.00" width="32.10" height="37.10" fill="#50586d" stroke="#3e4557" stroke-width="0.6"/><line x1="346.10" y1="202.00" x2="346.10" y2="249.00" stroke="#222" stroke-width="1.1"/><line x1="346.10" y1="286.10" x2="346.10" y2="316.50" stroke="#222" stroke-width="1.1"/><circle cx="345.06" cy="204.09" r="0.85" fill="#000"/><circle cx="346.91" cy="208.71" r="0.85" fill="#000"/><circle cx="345.46" cy="212.86" r="0.85" fill="#000"/><circle cx="346.03" cy="221.99" r="0.85" fill="#000"/><circle cx="346.04" cy="218.12" r="0.85" fill="#000"/><circle cx="345.26" cy="207.46" r="0.85" fill="#000"/><circle cx="350.36" cy="226.57" r="0.85" fill="#000"/><circle cx="350.00" cy="233.72" r="0.85" fill="#000"/><circle cx="347.41" cy="228.52" r="0.85" fill="#000"/><circle cx="341.89" cy="227.01" r="0.85" fill="#000"/><circle cx="342.25" cy="235.70" r="0.85" fill="#000"/><circle cx="348.91" cy="229.91" r="0.85" fill="#000"/><circle cx="342.50" cy="229.00" r="0.85" fill="#000"/><circle cx="348.76" cy="236.69" r="0.85" fill="#000"/><circle cx="346.36" cy="233.60" r="0.85" fill="#000"/><circle cx="344.31" cy="231.56" r="0.85" fill="#000"/><circle cx="350.39" cy="223.82" r="0.85" fill="#000"/><circle cx="347.57" cy="224.28" r="0.85" fill="#000"/><circle cx="345.09" cy="231.79" r="0.85" fill="#000"/><circle cx="344.49" cy="224.30" r="0.85" fill="#000"/><circle cx="349.31" cy="232.41" r="0.85" fill="#000"/><circle cx="342.23" cy="234.57" r="0.85" fill="#000"/><circle cx="351.21" cy="238.16" r="0.85" fill="#000"/><circle cx="351.54" cy="245.50" r="0.85" fill="#000"/><circle cx="355.22" cy="242.88" r="0.85" fill="#000"/><circle cx="347.70" cy="248.93" r="0.85" fill="#000"/><circle cx="343.91" cy="241.66" r="0.85" fill="#000"/><circle cx="338.50" cy="238.28" r="0.85" fill="#000"/><circle cx="353.06" cy="245.45" r="0.85" fill="#000"/><circle cx="338.53" cy="243.16" r="0.85" fill="#000"/><circle cx="336.73" cy="245.91" r="0.85" fill="#000"/><circle cx="353.43" cy="241.18" r="0.85" fill="#000"/><circle cx="345.77" cy="248.85" r="0.85" fill="#000"/><circle cx="341.22" cy="246.72" r="0.85" fill="#000"/><circle cx="351.31" cy="243.57" r="0.85" fill="#000"/><circle cx="341.54" cy="243.85" r="0.85" fill="#000"/><circle cx="342.75" cy="240.27" r="0.85" fill="#000"/><circle cx="347.47" cy="239.86" r="0.85" fill="#000"/><circle cx="346.85" cy="244.31" r="0.85" fill="#000"/><circle cx="346.03" cy="242.77" r="0.85" fill="#000"/><circle cx="355.87" cy="252.56" r="0.85" fill="#000"/><circle cx="339.39" cy="263.53" r="0.85" fill="#000"/><circle cx="341.91" cy="263.36" r="0.85" fill="#000"/><circle cx="341.51" cy="266.44" r="0.85" fill="#000"/><circle cx="341.99" cy="254.05" r="0.85" fill="#000"/><circle cx="346.56" cy="253.50" r="0.85" fill="#000"/><circle cx="339.58" cy="258.81" r="0.85" fill="#000"/><circle cx="349.55" cy="266.03" r="0.85" fill="#000"/><circle cx="352.40" cy="252.29" r="0.85" fill="#000"/><circle cx="346.62" cy="263.85" r="0.85" fill="#000"/><circle cx="344.03" cy="264.67" r="0.85" fill="#000"/><circle cx="341.84" cy="257.88" r="0.85" fill="#000"/><circle cx="351.25" cy="263.23" r="0.85" fill="#000"/><circle cx="336.41" cy="256.71" r="0.85" fill="#000"/><circle cx="341.70" cy="260.36" r="0.85" fill="#000"/><circle cx="339.55" cy="257.87" r="0.85" fill="#000"/><circle cx="346.32" cy="260.51" r="0.85" fill="#000"/><circle cx="348.62" cy="257.59" r="0.85" fill="#000"/><circle cx="335.86" cy="260.48" r="0.85" fill="#000"/><circle cx="355.37" cy="262.86" r="0.85" fill="#000"/><circle cx="340.16" cy="253.26" r="0.85" fill="#000"/><circle cx="348.99" cy="254.55" r="0.85" fill="#000"/><circle cx="354.47" cy="259.90" r="0.85" fill="#000"/><circle cx="335.71" cy="265.70" r="0.85" fill="#000"/><circle cx="354.20" cy="265.24" r="0.85" fill="#000"/><circle cx="353.10" cy="256.43" r="0.85" fill="#000"/><circle cx="346.13" cy="265.87" r="0.85" fill="#000"/><circle cx="347.56" cy="256.68" r="0.85" fill="#000"/><circle cx="347.70" cy="260.15" r="0.85" fill="#000"/><circle cx="355.86" cy="256.37" r="0.85" fill="#000"/><circle cx="350.49" cy="263.24" r="0.85" fill="#000"/><circle cx="338.27" cy="253.63" r="0.85" fill="#000"/><circle cx="338.17" cy="263.58" r="0.85" fill="#000"/><circle cx="350.96" cy="260.91" r="0.85" fill="#000"/><circle cx="352.46" cy="278.19" r="0.85" fill="#000"/><circle cx="355.87" cy="277.04" r="0.85" fill="#000"/><circle cx="355.92" cy="273.09" r="0.85" fill="#000"/><circle cx="339.13" cy="285.44" r="0.85" fill="#000"/><circle cx="352.62" cy="272.16" r="0.85" fill="#000"/><circle cx="343.55" cy="273.49" r="0.85" fill="#000"/><circle cx="337.45" cy="271.02" r="0.85" fill="#000"/><circle cx="344.26" cy="281.01" r="0.85" fill="#000"/><circle cx="342.61" cy="272.63" r="0.85" fill="#000"/><circle cx="350.04" cy="267.17" r="0.85" fill="#000"/><circle cx="346.34" cy="283.23" r="0.85" fill="#000"/><circle cx="349.09" cy="279.59" r="0.85" fill="#000"/><circle cx="340.86" cy="279.94" r="0.85" fill="#000"/><circle cx="340.20" cy="277.50" r="0.85" fill="#000"/><circle cx="355.36" cy="274.45" r="0.85" fill="#000"/><circle cx="347.36" cy="281.52" r="0.85" fill="#000"/><circle cx="343.75" cy="277.11" r="0.85" fill="#000"/><circle cx="337.54" cy="280.06" r="0.85" fill="#000"/><circle cx="340.43" cy="272.43" r="0.85" fill="#000"/><circle cx="346.72" cy="270.42" r="0.85" fill="#000"/><circle cx="351.72" cy="274.52" r="0.85" fill="#000"/><circle cx="354.43" cy="269.48" r="0.85" fill="#000"/><circle cx="348.28" cy="269.54" r="0.85" fill="#000"/><circle cx="354.40" cy="284.20" r="0.85" fill="#000"/><circle cx="338.06" cy="268.57" r="0.85" fill="#000"/><circle cx="341.53" cy="268.33" r="0.85" fill="#000"/><circle cx="336.46" cy="277.96" r="0.85" fill="#000"/><circle cx="341.53" cy="275.03" r="0.85" fill="#000"/><circle cx="354.59" cy="279.89" r="0.85" fill="#000"/><circle cx="338.68" cy="284.18" r="0.85" fill="#000"/><circle cx="350.91" cy="282.63" r="0.85" fill="#000"/><circle cx="338.37" cy="276.18" r="0.85" fill="#000"/><circle cx="344.22" cy="283.66" r="0.85" fill="#000"/><circle cx="352.45" cy="283.22" r="0.85" fill="#000"/><circle cx="345.71" cy="269.10" r="0.85" fill="#000"/><circle cx="348.44" cy="275.84" r="0.85" fill="#000"/><circle cx="335.46" cy="292.08" r="0.85" fill="#000"/><circle cx="349.86" cy="290.45" r="0.85" fill="#000"/><circle cx="348.61" cy="286.85" r="0.85" fill="#000"/><circle cx="357.09" cy="292.27" r="0.85" fill="#000"/><circle cx="336.76" cy="290.69" r="0.85" fill="#000"/><circle cx="355.70" cy="289.71" r="0.85" fill="#000"/><circle cx="352.55" cy="286.30" r="0.85" fill="#000"/><circle cx="344.12" cy="290.65" r="0.85" fill="#000"/><circle cx="338.49" cy="286.54" r="0.85" fill="#000"/><circle cx="340.27" cy="292.00" r="0.85" fill="#000"/><circle cx="343.59" cy="293.36" r="0.85" fill="#000"/><circle cx="354.75" cy="288.83" r="0.85" fill="#000"/><circle cx="353.76" cy="290.80" r="0.85" fill="#000"/><circle cx="353.85" cy="293.67" r="0.85" fill="#000"/><circle cx="342.13" cy="287.13" r="0.85" fill="#000"/><circle cx="340.89" cy="294.79" r="0.85" fill="#000"/><circle cx="336.41" cy="288.90" r="0.85" fill="#000"/><circle cx="346.35" cy="287.71" r="0.85" fill="#000"/><circle cx="344.01" cy="295.36" r="0.85" fill="#000"/><circle cx="351.74" cy="298.06" r="0.85" fill="#000"/><circle cx="344.28" cy="302.83" r="0.85" fill="#000"/><circle cx="352.48" cy="296.43" r="0.85" fill="#000"/><circle cx="341.49" cy="299.46" r="0.85" fill="#000"/><circle cx="349.14" cy="296.59" r="0.85" fill="#000"/><circle cx="341.59" cy="297.62" r="0.85" fill="#000"/><circle cx="348.25" cy="301.15" r="0.85" fill="#000"/><circle cx="345.26" cy="302.48" r="0.85" fill="#000"/><circle cx="342.57" cy="299.19" r="0.85" fill="#000"/><circle cx="347.12" cy="296.29" r="0.85" fill="#000"/><circle cx="346.65" cy="298.78" r="0.85" fill="#000"/><circle cx="345.26" cy="306.95" r="0.85" fill="#000"/><circle cx="344.30" cy="305.28" r="0.85" fill="#000"/><circle cx="348.98" cy="307.62" r="0.85" fill="#000"/><circle cx="346.79" cy="304.25" r="0.85" fill="#000"/><circle cx="345.25" cy="308.96" r="0.85" fill="#000"/><circle cx="348.98" cy="310.13" r="0.85" fill="#000"/><line x1="329.60" y1="267.20" x2="362.30" y2="267.20" stroke="#111" stroke-width="1.3"/><line x1="412.80" y1="193.10" x2="412.80" y2="321.70" stroke="#333" stroke-width="1.5"/><line x1="412.80" y1="321.70" x2="508.80" y2="321.70" stroke="#333" stroke-width="1.5"/><line x1="409.80" y1="298.60" x2="412.80" y2="298.60" stroke="#333" stroke-width="1.2"/><text x="407.00" y="300.90" font-size="6.4" fill="#222" text-anchor="end" stroke="#222" stroke-width="0.15" textLength="3.60" lengthAdjust="spacingAndGlyphs">8</text><line x1="409.80" y1="271.80" x2="412.80" y2="271.80" stroke="#333" stroke-width="1.2"/><text x="407.00" y="274.10" font-size="6.4" fill="#222" text-anchor="end" stroke="#222" stroke-width="0.15" textLength="7.10" lengthAdjust="spacingAndGlyphs">10</text><line x1="409.80" y1="245.00" x2="412.80" y2="245.00" stroke="#333" stroke-width="1.2"/><text x="407.00" y="247.30" font-size="6.4" fill="#222" text-anchor="end" stroke="#222" stroke-width="0.15" textLength="7.10" lengthAdjust="spacingAndGlyphs">12</text><line x1="409.80" y1="218.20" x2="412.80" y2="218.20" stroke="#333" stroke-width="1.2"/><text x="407.00" y="220.50" font-size="6.4" fill="#222" text-anchor="end" stroke="#222" stroke-width="0.15" textLength="7.10" lengthAdjust="spacingAndGlyphs">14</text><text x="394.50" y="259.60" font-size="7.8" fill="#222" text-anchor="middle" stroke="#222" stroke-width="0.3" textLength="46.80" lengthAdjust="spacingAndGlyphs" transform="rotate(-90 394.50 259.60)">Hemoglobin (g/dl)</text><line x1="438.90" y1="321.70" x2="438.90" y2="324.60" stroke="#333" stroke-width="1.2"/><line x1="482.30" y1="321.70" x2="482.30" y2="324.60" stroke="#333" stroke-width="1.2"/><text x="438.70" y="333.80" font-size="6.8" fill="#222" text-anchor="middle" stroke="#222" stroke-width="0.12" textLength="34.20" lengthAdjust="spacingAndGlyphs">Low PSME1</text><text x="482.25" y="333.80" font-size="6.8" fill="#222" text-anchor="middle" stroke="#222" stroke-width="0.12" textLength="35.50" lengthAdjust="spacingAndGlyphs">High PSME1</text><text x="450.10" y="199.50" font-size="5.2" fill="#333" text-anchor="start" font-style="italic" textLength="17.80" lengthAdjust="spacingAndGlyphs">p=0.02</text><rect x="422.80" y="235.40" width="32.40" height="36.40" fill="#cacace" stroke="#bcbcc1" stroke-width="0.6"/><line x1="439.00" y1="206.50" x2="439.00" y2="235.40" stroke="#222" stroke-width="1.1"/><line x1="439.00" y1="271.80" x2="439.00" y2="301.80" stroke="#222" stroke-width="1.1"/><circle cx="438.50" cy="206.60" r="0.85" fill="#000"/><circle cx="440.50" cy="209.00" r="0.85" fill="#000"/><circle cx="436.20" cy="213.60" r="0.85" fill="#000"/><circle cx="436.50" cy="221.30" r="0.85" fill="#000"/><circle cx="443.20" cy="221.30" r="0.85" fill="#000"/><circle cx="432.40" cy="225.50" r="0.85" fill="#000"/><circle cx="439.60" cy="224.40" r="0.85" fill="#000"/><circle cx="444.70" cy="226.40" r="0.85" fill="#000"/><circle cx="432.00" cy="233.20" r="0.85" fill="#000"/><circle cx="434.20" cy="235.70" r="0.85" fill="#000"/><circle cx="436.70" cy="233.70" r="0.85" fill="#000"/><circle cx="441.60" cy="233.20" r="0.85" fill="#000"/><circle cx="443.90" cy="234.70" r="0.85" fill="#000"/><circle cx="429.60" cy="239.80" r="0.85" fill="#000"/><circle cx="439.30" cy="239.80" r="0.85" fill="#000"/><circle cx="447.80" cy="242.50" r="0.85" fill="#000"/><circle cx="438.20" cy="245.60" r="0.85" fill="#000"/><circle cx="443.20" cy="245.60" r="0.85" fill="#000"/><circle cx="433.90" cy="248.00" r="0.85" fill="#000"/><circle cx="445.20" cy="249.10" r="0.85" fill="#000"/><circle cx="436.20" cy="252.20" r="0.85" fill="#000"/><circle cx="445.50" cy="250.50" r="0.85" fill="#000"/><circle cx="430.80" cy="261.60" r="0.85" fill="#000"/><circle cx="436.70" cy="260.50" r="0.85" fill="#000"/><circle cx="442.90" cy="261.60" r="0.85" fill="#000"/><circle cx="433.90" cy="264.20" r="0.85" fill="#000"/><circle cx="446.00" cy="264.20" r="0.85" fill="#000"/><circle cx="426.50" cy="266.70" r="0.85" fill="#000"/><circle cx="439.80" cy="266.70" r="0.85" fill="#000"/><circle cx="450.10" cy="267.80" r="0.85" fill="#000"/><circle cx="431.60" cy="272.10" r="0.85" fill="#000"/><circle cx="434.70" cy="272.10" r="0.85" fill="#000"/><circle cx="437.30" cy="270.90" r="0.85" fill="#000"/><circle cx="443.20" cy="272.10" r="0.85" fill="#000"/><circle cx="446.30" cy="272.10" r="0.85" fill="#000"/><circle cx="439.80" cy="276.30" r="0.85" fill="#000"/><circle cx="432.00" cy="281.70" r="0.85" fill="#000"/><circle cx="433.10" cy="285.80" r="0.85" fill="#000"/><circle cx="437.00" cy="284.30" r="0.85" fill="#000"/><circle cx="441.20" cy="284.30" r="0.85" fill="#000"/><circle cx="445.00" cy="284.30" r="0.85" fill="#000"/><circle cx="436.70" cy="292.00" r="0.85" fill="#000"/><circle cx="441.60" cy="290.90" r="0.85" fill="#000"/><circle cx="439.00" cy="301.30" r="0.85" fill="#000"/><line x1="422.50" y1="257.40" x2="455.50" y2="257.40" stroke="#111" stroke-width="1.3"/><circle cx="439.20" cy="254.20" r="1.4" fill="#000"/><rect x="466.10" y="248.50" width="32.80" height="34.30" fill="#50586d" stroke="#3e4557" stroke-width="0.6"/><line x1="482.30" y1="198.00" x2="482.30" y2="248.50" stroke="#222" stroke-width="1.1"/><line x1="482.30" y1="282.80" x2="482.30" y2="316.60" stroke="#222" stroke-width="1.1"/><circle cx="482.72" cy="212.23" r="0.85" fill="#000"/><circle cx="482.21" cy="199.15" r="0.85" fill="#000"/><circle cx="481.90" cy="203.46" r="0.85" fill="#000"/><circle cx="482.78" cy="207.98" r="0.85" fill="#000"/><circle cx="481.51" cy="210.68" r="0.85" fill="#000"/><circle cx="483.83" cy="224.43" r="0.85" fill="#000"/><circle cx="482.71" cy="231.14" r="0.85" fill="#000"/><circle cx="485.00" cy="219.39" r="0.85" fill="#000"/><circle cx="479.99" cy="224.27" r="0.85" fill="#000"/><circle cx="479.37" cy="215.30" r="0.85" fill="#000"/><circle cx="479.42" cy="229.31" r="0.85" fill="#000"/><circle cx="483.10" cy="217.75" r="0.85" fill="#000"/><circle cx="481.82" cy="221.41" r="0.85" fill="#000"/><circle cx="479.82" cy="225.39" r="0.85" fill="#000"/><circle cx="482.39" cy="226.87" r="0.85" fill="#000"/><circle cx="488.99" cy="238.19" r="0.85" fill="#000"/><circle cx="474.64" cy="238.34" r="0.85" fill="#000"/><circle cx="483.12" cy="236.41" r="0.85" fill="#000"/><circle cx="485.28" cy="247.53" r="0.85" fill="#000"/><circle cx="482.04" cy="236.72" r="0.85" fill="#000"/><circle cx="482.48" cy="243.22" r="0.85" fill="#000"/><circle cx="485.20" cy="233.11" r="0.85" fill="#000"/><circle cx="476.97" cy="243.76" r="0.85" fill="#000"/><circle cx="488.99" cy="235.04" r="0.85" fill="#000"/><circle cx="477.49" cy="244.52" r="0.85" fill="#000"/><circle cx="477.65" cy="233.66" r="0.85" fill="#000"/><circle cx="480.20" cy="240.92" r="0.85" fill="#000"/><circle cx="481.64" cy="235.04" r="0.85" fill="#000"/><circle cx="488.95" cy="246.53" r="0.85" fill="#000"/><circle cx="490.24" cy="243.09" r="0.85" fill="#000"/><circle cx="481.80" cy="244.83" r="0.85" fill="#000"/><circle cx="481.51" cy="262.52" r="0.85" fill="#000"/><circle cx="478.92" cy="252.89" r="0.85" fill="#000"/><circle cx="480.62" cy="254.49" r="0.85" fill="#000"/><circle cx="488.19" cy="251.80" r="0.85" fill="#000"/><circle cx="485.03" cy="256.53" r="0.85" fill="#000"/><circle cx="490.69" cy="259.14" r="0.85" fill="#000"/><circle cx="475.26" cy="266.19" r="0.85" fill="#000"/><circle cx="477.51" cy="260.38" r="0.85" fill="#000"/><circle cx="480.56" cy="257.54" r="0.85" fill="#000"/><circle cx="482.63" cy="260.18" r="0.85" fill="#000"/><circle cx="487.21" cy="260.26" r="0.85" fill="#000"/><circle cx="475.67" cy="257.66" r="0.85" fill="#000"/><circle cx="486.91" cy="252.48" r="0.85" fill="#000"/><circle cx="474.88" cy="251.65" r="0.85" fill="#000"/><circle cx="471.73" cy="262.04" r="0.85" fill="#000"/><circle cx="488.76" cy="263.74" r="0.85" fill="#000"/><circle cx="474.65" cy="256.00" r="0.85" fill="#000"/><circle cx="473.51" cy="258.44" r="0.85" fill="#000"/><circle cx="472.50" cy="256.22" r="0.85" fill="#000"/><circle cx="478.12" cy="266.33" r="0.85" fill="#000"/><circle cx="483.15" cy="252.82" r="0.85" fill="#000"/><circle cx="485.43" cy="266.31" r="0.85" fill="#000"/><circle cx="490.31" cy="260.54" r="0.85" fill="#000"/><circle cx="481.27" cy="255.45" r="0.85" fill="#000"/><circle cx="487.28" cy="259.02" r="0.85" fill="#000"/><circle cx="481.43" cy="265.99" r="0.85" fill="#000"/><circle cx="487.57" cy="253.78" r="0.85" fill="#000"/><circle cx="473.06" cy="251.98" r="0.85" fill="#000"/><circle cx="490.70" cy="264.72" r="0.85" fill="#000"/><circle cx="486.85" cy="258.54" r="0.85" fill="#000"/><circle cx="493.12" cy="252.23" r="0.85" fill="#000"/><circle cx="486.99" cy="260.31" r="0.85" fill="#000"/><circle cx="491.87" cy="256.62" r="0.85" fill="#000"/><circle cx="472.99" cy="265.16" r="0.85" fill="#000"/><circle cx="474.66" cy="271.23" r="0.85" fill="#000"/><circle cx="473.21" cy="276.97" r="0.85" fill="#000"/><circle cx="477.79" cy="267.28" r="0.85" fill="#000"/><circle cx="491.64" cy="271.06" r="0.85" fill="#000"/><circle cx="480.81" cy="271.64" r="0.85" fill="#000"/><circle cx="491.21" cy="269.20" r="0.85" fill="#000"/><circle cx="474.47" cy="282.10" r="0.85" fill="#000"/><circle cx="485.73" cy="276.21" r="0.85" fill="#000"/><circle cx="490.11" cy="279.50" r="0.85" fill="#000"/><circle cx="477.92" cy="275.82" r="0.85" fill="#000"/><circle cx="487.74" cy="271.04" r="0.85" fill="#000"/><circle cx="478.19" cy="272.43" r="0.85" fill="#000"/><circle cx="481.08" cy="273.85" r="0.85" fill="#000"/><circle cx="489.96" cy="267.09" r="0.85" fill="#000"/><circle cx="491.33" cy="279.50" r="0.85" fill="#000"/><circle cx="482.20" cy="278.75" r="0.85" fill="#000"/><circle cx="472.46" cy="271.60" r="0.85" fill="#000"/><circle cx="484.61" cy="271.96" r="0.85" fill="#000"/><circle cx="472.93" cy="267.53" r="0.85" fill="#000"/><circle cx="488.39" cy="280.22" r="0.85" fill="#000"/><circle cx="477.66" cy="282.62" r="0.85" fill="#000"/><circle cx="492.67" cy="273.47" r="0.85" fill="#000"/><circle cx="484.66" cy="276.55" r="0.85" fill="#000"/><circle cx="476.35" cy="269.44" r="0.85" fill="#000"/><circle cx="480.91" cy="280.29" r="0.85" fill="#000"/><circle cx="475.39" cy="274.03" r="0.85" fill="#000"/><circle cx="477.51" cy="278.94" r="0.85" fill="#000"/><circle cx="474.13" cy="282.11" r="0.85" fill="#000"/><circle cx="483.48" cy="269.70" r="0.85" fill="#000"/><circle cx="486.91" cy="282.54" r="0.85" fill="#000"/><circle cx="478.58" cy="276.66" r="0.85" fill="#000"/><circle cx="473.20" cy="273.94" r="0.85" fill="#000"/><circle cx="491.25" cy="281.16" r="0.85" fill="#000"/><circle cx="488.27" cy="275.84" r="0.85" fill="#000"/><circle cx="491.20" cy="283.32" r="0.85" fill="#000"/><circle cx="481.29" cy="289.51" r="0.85" fill="#000"/><circle cx="482.78" cy="290.95" r="0.85" fill="#000"/><circle cx="472.98" cy="284.72" r="0.85" fill="#000"/><circle cx="484.42" cy="284.17" r="0.85" fill="#000"/><circle cx="488.89" cy="291.27" r="0.85" fill="#000"/><circle cx="476.04" cy="285.05" r="0.85" fill="#000"/><circle cx="490.47" cy="290.60" r="0.85" fill="#000"/><circle cx="487.73" cy="285.93" r="0.85" fill="#000"/><circle cx="474.83" cy="290.38" r="0.85" fill="#000"/><circle cx="492.22" cy="286.86" r="0.85" fill="#000"/><circle cx="482.65" cy="287.44" r="0.85" fill="#000"/><circle cx="476.30" cy="291.13" r="0.85" fill="#000"/><circle cx="475.55" cy="287.50" r="0.85" fill="#000"/><circle cx="489.02" cy="282.83" r="0.85" fill="#000"/><circle cx="479.32" cy="286.00" r="0.85" fill="#000"/><circle cx="476.68" cy="293.20" r="0.85" fill="#000"/><circle cx="486.80" cy="296.40" r="0.85" fill="#000"/><circle cx="487.54" cy="299.27" r="0.85" fill="#000"/><circle cx="484.16" cy="301.56" r="0.85" fill="#000"/><circle cx="481.27" cy="295.36" r="0.85" fill="#000"/><circle cx="477.36" cy="295.40" r="0.85" fill="#000"/><circle cx="487.75" cy="294.89" r="0.85" fill="#000"/><circle cx="481.50" cy="301.69" r="0.85" fill="#000"/><circle cx="482.77" cy="296.24" r="0.85" fill="#000"/><circle cx="478.01" cy="300.17" r="0.85" fill="#000"/><circle cx="482.45" cy="307.81" r="0.85" fill="#000"/><circle cx="480.33" cy="309.60" r="0.85" fill="#000"/><circle cx="480.91" cy="303.93" r="0.85" fill="#000"/><circle cx="481.59" cy="308.50" r="0.85" fill="#000"/><circle cx="483.32" cy="310.18" r="0.85" fill="#000"/><circle cx="482.70" cy="304.49" r="0.85" fill="#000"/><line x1="465.80" y1="266.70" x2="499.20" y2="266.70" stroke="#111" stroke-width="1.3"/><circle cx="482.10" cy="263.70" r="1.4" fill="#000"/><rect x="0.5" y="0.5" width="519" height="348" fill="none" stroke="#000" stroke-width="1"/></svg>
</body></html>
